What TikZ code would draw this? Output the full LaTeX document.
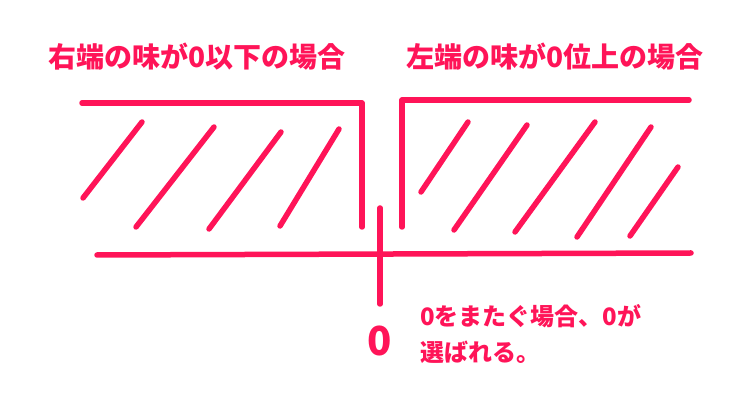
\documentclass[tikz,border=0pt]{standalone}
\usepackage{fontspec}
\newfontfamily\jpfont{Noto Sans CJK JP}
\usepackage{xcolor}
\definecolor{hotpink}{RGB}{255,20,88}
\tikzset{pinkline/.style={draw=hotpink, line width=5.5pt, line cap=round, line join=round},
  caption/.style={text=hotpink, font=\jpfont\bfseries\fontsize{28}{32}\selectfont, inner sep=0pt},
  remark/.style={text=hotpink, font=\jpfont\bfseries\fontsize{24}{36}\selectfont, inner sep=0pt, align=left}}

\begin{document}
\begin{tikzpicture}[x=1pt,y=-1pt]
\useasboundingbox (0,0) rectangle (734,419);
% left case
\node [caption] (titleL) at (197,57) {右端の味が0以下の場合};
\draw [pinkline] (82,103)--(362,103)--(362,227);
\draw [pinkline] (83,198)--(142,122);
\draw [pinkline] (136,227)--(214,127);
\draw [pinkline] (209,229)--(281,132);
\draw [pinkline] (280,226)--(339,129);
% right case
\node [caption] (titleR) at (555,57) {左端の味が0位上の場合};
\draw [pinkline] (402,227)--(402,100)--(689,100);
\draw [pinkline] (421,192)--(468,122);
\draw [pinkline] (454,230)--(527,125);
\draw [pinkline] (515,232)--(595,122);
\draw [pinkline] (577,237)--(651,127);
\draw [pinkline] (630,236)--(678,167);
% axis and zero
\draw [pinkline] (97,255)--(691,253);
\coordinate (tick) at (380,208);
\node [text=hotpink, font=\jpfont\bfseries\fontsize{40}{40}\selectfont, inner sep=0pt] (zero) at (380,341) {0};
\draw [pinkline] (tick)--(380,304);
\node [remark, anchor=base west] (note) at (420,362) {0をまたぐ場合、0が\\選ばれる。};
\end{tikzpicture}
\end{document}
